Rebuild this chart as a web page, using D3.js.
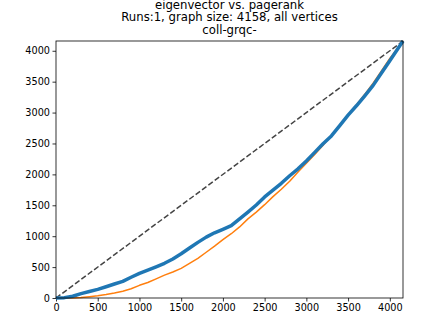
<!DOCTYPE html>
<html>
<head>
<meta charset="utf-8">
<script src="https://cdn.jsdelivr.net/npm/d3@7"></script>
<style>
	body { margin: 0; background: #fff; }
	svg { font-family: 'DejaVu Sans', sans-serif; }
	.tick text { font-size: 9.7px; fill: #000; font-family: 'DejaVu Sans', sans-serif; }
	.tick line { stroke: #000; stroke-width: 0.8; }
	.domain { display: none; }
</style>
</head>
<body>
<svg id="chart" width="448" height="336"></svg>
<script>
const N = 4158;
const TITLE = [
	'eigenvector vs. pagerank',
	'Runs:1, graph size: 4158, all vertices',
	'coll-grqc-'
];
const X_TICKS = [0, 500, 1000, 1500, 2000, 2500, 3000, 3500, 4000];
const Y_TICKS = [0, 500, 1000, 1500, 2000, 2500, 3000, 3500, 4000];

// rank position vs. cumulative overlap
const blueX = [0, 100, 200, 300, 400, 500, 600, 700, 800, 900, 1000, 1100, 1200, 1300, 1400, 1500, 1600, 1700, 1800, 1900, 2000, 2100, 2200, 2300, 2400, 2500, 2600, 2700, 2800, 2900, 3000, 3100, 3200, 3300, 3400, 3500, 3600, 3700, 3800, 3900, 4000, 4100, 4158];
const blueY = [0, 6, 28, 70, 104, 140, 182, 226, 270, 336, 398, 450, 505, 562, 632, 715, 808, 900, 985, 1055, 1112, 1170, 1280, 1390, 1505, 1636, 1746, 1856, 1978, 2090, 2218, 2356, 2496, 2622, 2790, 2958, 3110, 3272, 3440, 3640, 3840, 4040, 4158];

const orangeX = [0, 200, 300, 400, 500, 600, 700, 800, 900, 1000, 1100, 1200, 1300, 1400, 1500, 1600, 1700, 1800, 1900, 2000, 2100, 2200, 2300, 2400, 2500, 2600, 2700, 2800, 2900, 3000, 3100, 3200, 3300, 3400, 3500, 3600, 3700, 3800, 3900, 4000, 4100, 4158];
const orangeY = [0, 0, 8, 20, 35, 55, 80, 110, 150, 205, 250, 310, 370, 420, 480, 560, 640, 740, 840, 945, 1040, 1150, 1280, 1390, 1510, 1640, 1760, 1890, 2040, 2180, 2320, 2470, 2630, 2790, 2955, 3125, 3295, 3475, 3675, 3875, 4050, 4158];

const diagX = [0, N];
const diagY = [0, N];

const margin = { left: 56, right: 45, top: 41, bottom: 38 };
const width = 448;
const height = 336;

const $svg = d3.select('#chart');

const x = d3.scaleLinear().domain([0, N]).range([margin.left, width - margin.right]);
const y = d3.scaleLinear().domain([0, N]).range([height - margin.bottom, margin.top]);

const line = d3.line().x(d => x(d[0])).y(d => y(d[1]));
const fmt = d3.format('d');

$svg.append('g')
	.attr('transform', `translate(0,${height - margin.bottom})`)
	.call(d3.axisBottom(x).tickValues(X_TICKS).tickFormat(fmt).tickSize(3.5).tickPadding(2.5));

$svg.append('g')
	.attr('transform', `translate(${margin.left},0)`)
	.call(d3.axisLeft(y).tickValues(Y_TICKS).tickFormat(fmt).tickSize(3.5).tickPadding(2.5));

$svg.append('path')
	.datum(d3.zip(diagX, diagY))
	.attr('d', line)
	.attr('fill', 'none')
	.attr('stroke', '#444')
	.attr('stroke-width', 1.5)
	.attr('stroke-dasharray', '5.5,2.4');

$svg.append('path')
	.datum(d3.zip(orangeX, orangeY))
	.attr('d', line)
	.attr('fill', 'none')
	.attr('stroke', '#ff7f0e')
	.attr('stroke-width', 1.5)
	.attr('stroke-linejoin', 'round');

$svg.append('path')
	.datum(d3.zip(blueX, blueY))
	.attr('d', line)
	.attr('fill', 'none')
	.attr('stroke', '#1f77b4')
	.attr('stroke-width', 3.5)
	.attr('stroke-linejoin', 'round');

// frame
$svg.append('rect')
	.attr('x', margin.left)
	.attr('y', margin.top)
	.attr('width', width - margin.left - margin.right)
	.attr('height', height - margin.top - margin.bottom)
	.attr('fill', 'none')
	.attr('stroke', '#000')
	.attr('stroke-width', 0.8);

$svg.append('g')
	.selectAll('text')
	.data(TITLE)
	.enter()
	.append('text')
	.attr('x', (margin.left + width - margin.right) / 2)
	.attr('y', (d, i) => 8.5 + i * 12.6)
	.attr('text-anchor', 'middle')
	.attr('font-size', 11.7)
	.text(d => d);
</script>
</body>
</html>
